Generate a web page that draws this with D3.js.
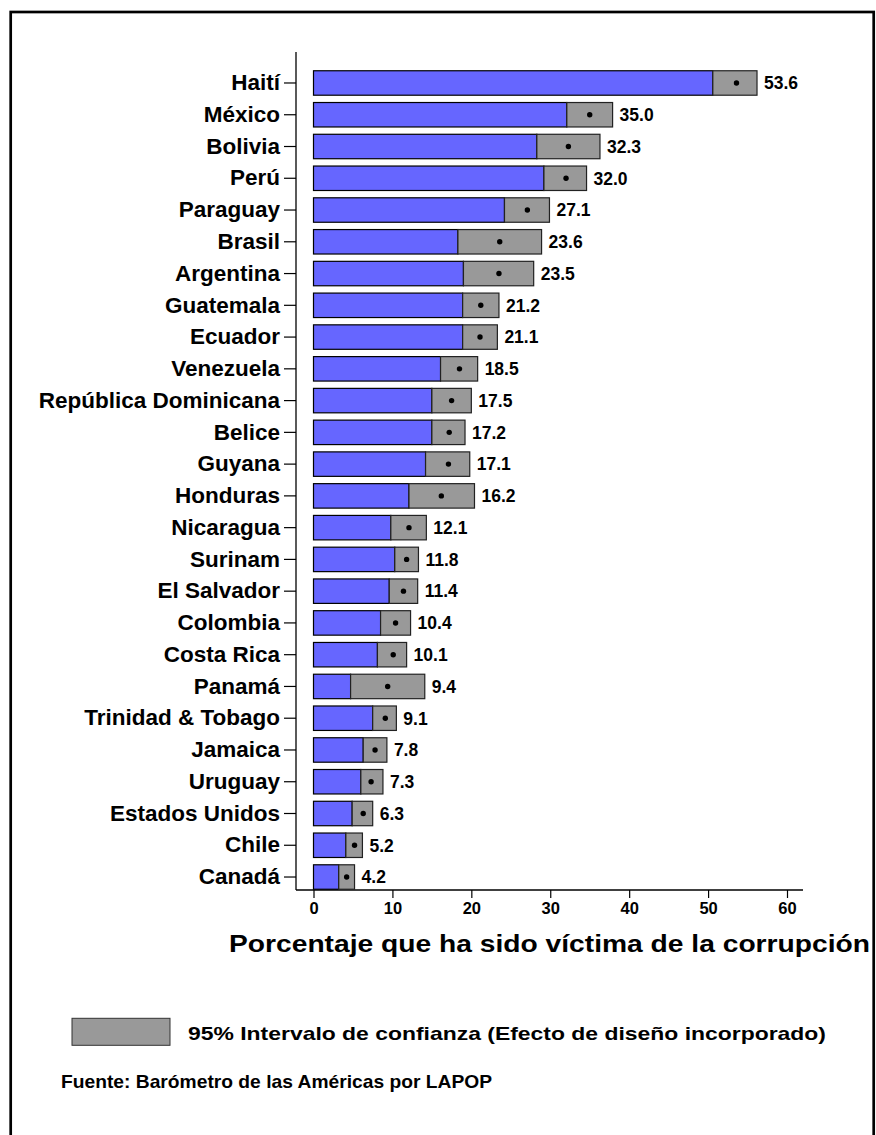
<!DOCTYPE html>
<html><head><meta charset="utf-8">
<script src="https://cdn.jsdelivr.net/npm/d3@7"></script>
<style>body{margin:0;background:#fff}svg{display:block}text{font-family:"Liberation Sans",Arial,sans-serif;font-weight:bold}</style>
</head><body><svg id="c" width="876" height="1135"></svg>
<script>
const countries = ["Haití","México","Bolivia","Perú","Paraguay","Brasil","Argentina","Guatemala","Ecuador","Venezuela","República Dominicana","Belice","Guyana","Honduras","Nicaragua","Surinam","El Salvador","Colombia","Costa Rica","Panamá","Trinidad & Tobago","Jamaica","Uruguay","Estados Unidos","Chile","Canadá"];
const values = [53.6,35.0,32.3,32.0,27.1,23.6,23.5,21.2,21.1,18.5,17.5,17.2,17.1,16.2,12.1,11.8,11.4,10.4,10.1,9.4,9.1,7.8,7.3,6.3,5.2,4.2];
const lower = [50.6,32.1,28.3,29.2,24.2,18.3,19.0,18.9,18.9,16.1,15.0,15.0,14.2,12.1,9.8,10.3,9.6,8.5,8.1,4.7,7.5,6.3,6.0,4.9,4.1,3.2];
const upper = [56.2,37.9,36.3,34.6,29.9,28.9,27.9,23.5,23.3,20.8,20.0,19.2,19.8,20.4,14.3,13.3,13.2,12.3,11.8,14.1,10.5,9.3,8.8,7.5,6.2,5.2];
const xTicks = [0,10,20,30,40,50,60];
const xTitle = "Porcentaje que ha sido víctima de la corrupción";
const legendText = "95% Intervalo de confianza (Efecto de diseño incorporado)";
const sourceText = "Fuente: Barómetro de las Américas por LAPOP";

const data = countries.map((c,i)=>({c, v:values[i], lo:lower[i], hi:upper[i]}));
const svg = d3.select("#c");
// border
svg.append("rect").attr("x",10.7).attr("y",12).attr("width",863).attr("height",1140)
  .attr("fill","none").attr("stroke","#000").attr("stroke-width",2.7);

const x = d3.scaleLinear().domain([0,60]).range([313.5,787]);
const y = d3.scaleBand().domain(countries).range([67.1,892.9]).paddingInner(0.23).paddingOuter(0.115);
const axisX = 296, axisY = 890;

// y axis
const ya = svg.append("g").attr("transform",`translate(${axisX},0)`)
  .call(d3.axisLeft(y).tickSize(12).tickPadding(4).tickSizeOuter(0));
ya.select(".domain").remove();
ya.append("line").attr("x1",0).attr("x2",0).attr("y1",52).attr("y2",axisY).attr("stroke","#000").attr("stroke-width",1.3);
ya.selectAll(".tick line").attr("stroke","#000").attr("stroke-width",1.2);
ya.selectAll(".tick text").attr("font-size",22.5).attr("fill","#000");

// x axis
const xa = svg.append("g").attr("transform",`translate(0,${axisY})`)
  .call(d3.axisBottom(x).tickValues(xTicks).tickSize(8).tickPadding(4).tickSizeOuter(0));
xa.select(".domain").remove();
xa.append("line").attr("x1",axisX).attr("x2",803).attr("y1",0).attr("y2",0).attr("stroke","#000").attr("stroke-width",1.3);
xa.selectAll(".tick line").attr("stroke","#000").attr("stroke-width",1.2);
xa.selectAll(".tick text").attr("font-size",16.5).attr("fill","#000");

svg.append("text").attr("x",229).attr("y",952).attr("font-size",24)
  .attr("textLength",641).attr("lengthAdjust","spacingAndGlyphs").text(xTitle);

const g = svg.append("g");
g.selectAll("rect.bar").data(data).join("rect").attr("class","bar")
  .attr("x",x(0)).attr("y",d=>y(d.c)).attr("width",d=>x(d.lo)-x(0)).attr("height",y.bandwidth())
  .attr("fill","#6666ff").attr("stroke","#000").attr("stroke-width",1.2);
g.selectAll("rect.ci").data(data).join("rect").attr("class","ci")
  .attr("x",d=>x(d.lo)).attr("y",d=>y(d.c)).attr("width",d=>x(d.hi)-x(d.lo)).attr("height",y.bandwidth())
  .attr("fill","#999999").attr("stroke","#222").attr("stroke-width",1.2);
g.selectAll("circle").data(data).join("circle")
  .attr("cx",d=>x(d.v)).attr("cy",d=>y(d.c)+y.bandwidth()/2).attr("r",2.7).attr("fill","#000");
g.selectAll("text.val").data(data).join("text").attr("class","val")
  .attr("x",d=>x(d.hi)+7).attr("y",d=>y(d.c)+y.bandwidth()/2).attr("dy","0.36em")
  .attr("font-size",17.5).text(d=>d.v.toFixed(1));

// legend
svg.append("rect").attr("x",72).attr("y",1018.3).attr("width",98).attr("height",27)
  .attr("fill","#999999").attr("stroke","#333").attr("stroke-width",1);
svg.append("text").attr("x",188).attr("y",1040).attr("font-size",19)
  .attr("textLength",638).attr("lengthAdjust","spacingAndGlyphs").text(legendText);
svg.append("text").attr("x",61).attr("y",1088.3).attr("font-size",19)
  .attr("textLength",431).attr("lengthAdjust","spacingAndGlyphs").text(sourceText);
</script></body></html>
